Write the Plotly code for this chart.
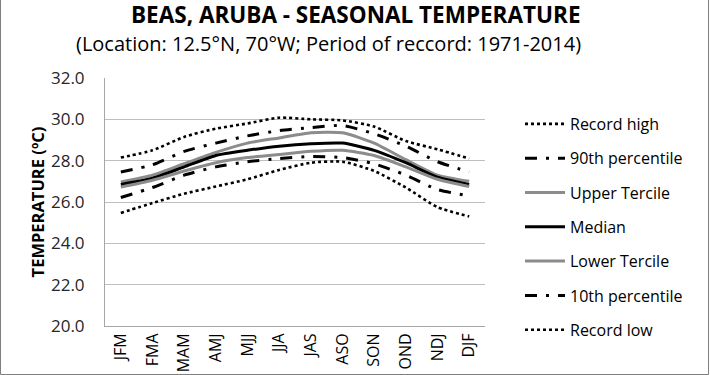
import plotly.graph_objects as go

seasons = ["JFM", "FMA", "MAM", "AMJ", "MJJ", "JJA", "JAS", "ASO", "SON", "OND", "NDJ", "DJF"]
record_high = [28.15, 28.5, 29.15, 29.55, 29.8, 30.08, 30.0, 29.95, 29.65, 28.95, 28.55, 28.1]
p90 = [27.45, 27.8, 28.45, 28.85, 29.2, 29.45, 29.6, 29.7, 29.3, 28.7, 27.95, 27.45]
upper_tercile = [26.97, 27.3, 27.85, 28.4, 28.85, 29.1, 29.35, 29.35, 28.85, 28.05, 27.3, 27.0]
median = [26.85, 27.15, 27.7, 28.25, 28.5, 28.7, 28.82, 28.85, 28.5, 27.9, 27.2, 26.85]
lower_tercile = [26.72, 27.05, 27.5, 27.9, 28.15, 28.3, 28.45, 28.5, 28.25, 27.7, 27.1, 26.75]
p10 = [26.22, 26.7, 27.3, 27.7, 27.95, 28.1, 28.2, 28.15, 27.85, 27.3, 26.6, 26.3]
record_low = [25.47, 25.95, 26.4, 26.75, 27.1, 27.55, 27.9, 27.95, 27.5, 26.7, 25.75, 25.3]
y_ticks = [20.0, 22.0, 24.0, 26.0, 28.0, 30.0, 32.0]

series = [
    ("Record high", record_high, dict(color="black", width=2.6, dash="dot")),
    ("90th percentile", p90, dict(color="black", width=3, dash="12px,9px,3px,9px")),
    ("Upper Tercile", upper_tercile, dict(color="#8c8c8c", width=3)),
    ("Median", median, dict(color="black", width=3)),
    ("Lower Tercile", lower_tercile, dict(color="#8c8c8c", width=3)),
    ("10th percentile", p10, dict(color="black", width=3, dash="12px,9px,3px,9px")),
    ("Record low", record_low, dict(color="black", width=2.6, dash="dot")),
]

fig = go.Figure()
for i, (name, vals, line) in enumerate(series):
    fig.add_trace(go.Scatter(x=seasons, y=vals, name=name, mode="lines",
                             line=dict(shape="spline", smoothing=0.6, **line),
                             legendgroup=str(i)))

font = "Open Sans"
L, R, T, B = 105, 225, 78, 49
W, H = 710, 375
pw, ph = W - L - R, H - T - B

fig.update_layout(
    width=W, height=H,
    margin=dict(l=L, r=R, t=T, b=B, autoexpand=False),
    paper_bgcolor="white", plot_bgcolor="white",
    font=dict(family=font, color="black"),
    showlegend=True,
    legend=dict(x=(520 - L) / pw, y=1 - (107 - T) / ph, xanchor="left", yanchor="top",
                font=dict(size=16, family=font), tracegroupgap=10.5, maxheight=1,
                itemwidth=40, bgcolor="rgba(0,0,0,0)"),
    xaxis=dict(tickangle=-90, tickfont=dict(size=16, family=font), showgrid=False,
               showline=True, linecolor="#a6a6a6", linewidth=1, ticks="",
               range=[-0.5, 11.5], fixedrange=True, automargin=False),
    yaxis=dict(range=[20, 32], tickvals=y_ticks, tickformat=".1f", automargin=False,
               tickfont=dict(size=17, family=font, color="#262626"), showgrid=True,
               gridcolor="#bfbfbf", gridwidth=1, showline=True, linecolor="#a6a6a6",
               zeroline=False, ticks="", ticklabelstandoff=16, fixedrange=True,
               title=dict(text="<b>TEMPERATURE (ºC)</b>", font=dict(size=16.5, family=font),
                          standoff=2)),
    annotations=[
        dict(text="<b>BEAS, ARUBA - SEASONAL TEMPERATURE</b>", xref="paper", yref="paper",
             x=(355 - L) / pw, y=1 + (T - 14) / ph, xanchor="center", yanchor="middle",
             showarrow=False, font=dict(size=22.5, family=font)),
        dict(text="(Location: 12.5°N, 70°W; Period of reccord: 1971-2014)", xref="paper",
             yref="paper", x=(328 - L) / pw, y=1 + (T - 43) / ph, xanchor="center",
             yanchor="middle", showarrow=False, font=dict(size=20, family=font)),
    ],
    shapes=[dict(type="rect", xref="paper", yref="paper",
                 x0=(0.5 - L) / pw, x1=(W - 1.5 - L) / pw,
                 y0=-(B - 0.5) / ph, y1=1 + (T + 5) / ph,
                 line=dict(color="#7f7f7f", width=1), layer="below")],
)

fig.write_html("out.html", config={"displayModeBar": False},
               post_script="document.body.style.margin='0';document.body.style.padding='0';")
